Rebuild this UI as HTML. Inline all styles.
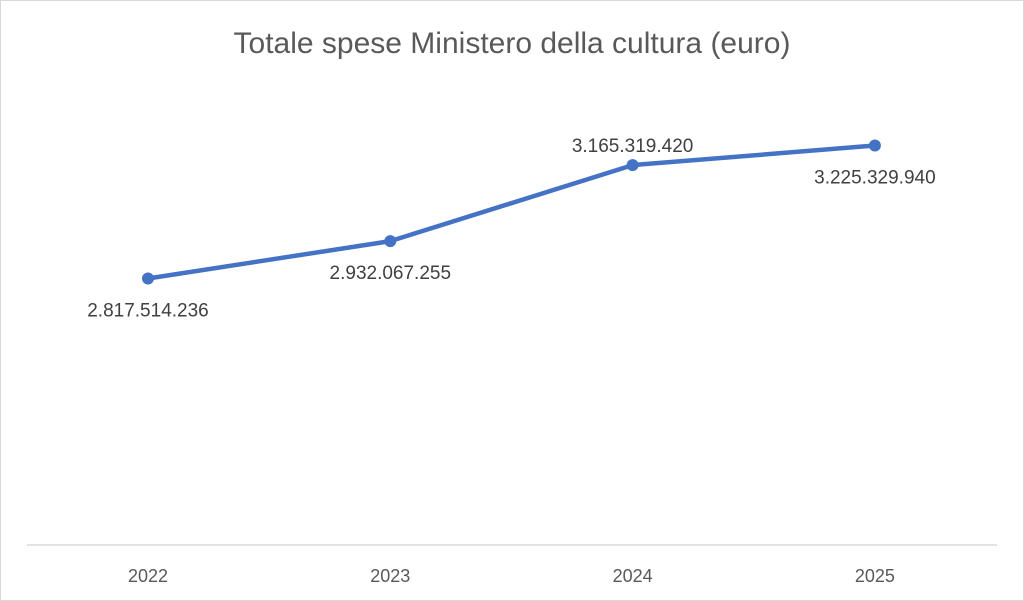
<!DOCTYPE html>
<html><head><meta charset="utf-8"><style>
body{margin:0;background:#fff}
svg{display:block;font-family:"Liberation Sans",Arial,sans-serif}
</style></head><body>
<svg id="chart" width="1024" height="601">
<rect x="0.5" y="0.5" width="1023" height="600" fill="#fff" stroke="#d9d9d9"/>
<text x="512" y="53" text-anchor="middle" font-size="30" fill="#595959">Totale spese Ministero della cultura (euro)</text>
<line x1="27" y1="545" x2="997" y2="545" stroke="#d9d9d9" stroke-width="1.5"/>
<g id="marks"></g>
</svg>
<script>
const categories=["2022","2023","2024","2025"];
const values=[2817514236,2932067255,3165319420,3225329940];
const valueLabels=["2.817.514.236","2.932.067.255","3.165.319.420","3.225.329.940"];
const labelAbove=[false,false,true,false];
const yMin=2000000000,yMax=3500000000;
const x=i=>148+i*242.3;
const y=v=>545-(v-yMin)/(yMax-yMin)*489;
const NS="http://www.w3.org/2000/svg";
const g=document.getElementById('marks');
function mk(t,a){const e=document.createElementNS(NS,t);for(const k in a)e.setAttribute(k,a[k]);g.appendChild(e);return e;}
const line=mk('polyline',{points:values.map((v,i)=>x(i)+','+y(v)).join(' '),fill:'none',stroke:'#4472c4','stroke-width':4.5,'stroke-linejoin':'round','stroke-linecap':'round'});


values.forEach((v,i)=>{
 const c=mk('circle',{cx:x(i),cy:y(v),r:6,fill:'#4472c4'});
 
 
 const t=mk('text',{x:x(i),y:labelAbove[i]?y(v)-13:y(v)+38,'text-anchor':'middle','font-size':19,fill:'#404040'});
 t.textContent=valueLabels[i];
 
 
 const xl=mk('text',{x:x(i),y:582,'text-anchor':'middle','font-size':18,fill:'#595959'});
 xl.textContent=categories[i];
 
 
});
</script>
</body></html>
